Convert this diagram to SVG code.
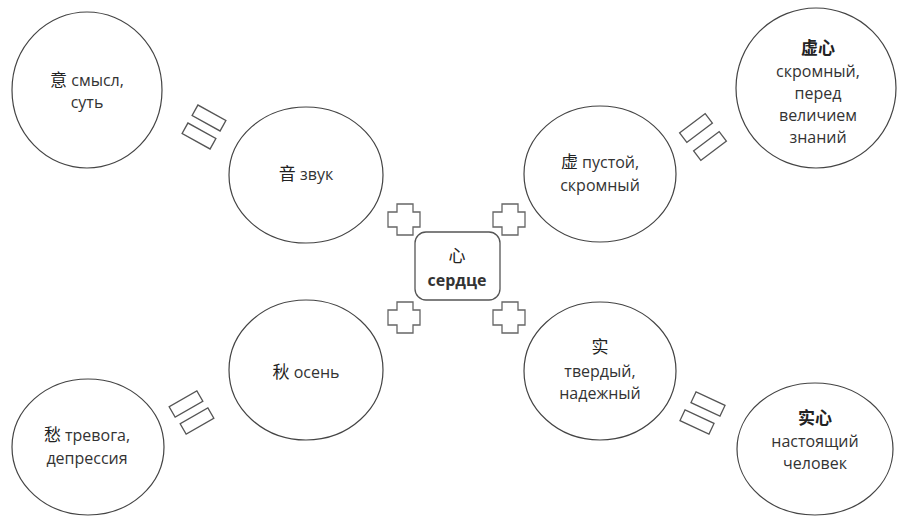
<svg xmlns="http://www.w3.org/2000/svg" width="897" height="516" viewBox="0 0 897 516">
<style>
.c{fill:#fff;stroke:#444;stroke-width:1.2}
.b{fill:#fff;stroke:#555;stroke-width:1.3}
.x{fill:#fff;stroke:#666;stroke-width:1.3}
.r{fill:#fff;stroke:#555;stroke-width:1.3}
text{font-family:"Open Sans","Noto Sans CJK SC",sans-serif;font-size:16px;fill:#333;text-anchor:middle}
.h{font-family:"Noto Sans CJK SC",sans-serif;font-size:17px;font-weight:400;fill:#222}
.bold{font-weight:bold}
</style>
<defs>
<path id="cross" d="M9,0 H25 V8 H32 V23 H25 V31 H9 V23 H0 V8 H9 Z"/>
<rect id="bar" x="-16" y="-6" width="32" height="12"/>
</defs>
<g id="connectors">
<use href="#cross" class="x" transform="translate(388,204)"/>
<use href="#cross" class="x" transform="translate(493,204)"/>
<use href="#cross" class="x" transform="translate(388,302)"/>
<use href="#cross" class="x" transform="translate(493,302)"/>
<use href="#bar" class="r" transform="translate(209,118) rotate(29)"/>
<use href="#bar" class="r" transform="translate(199,136) rotate(29)"/>
<use href="#bar" class="r" transform="translate(696,128) rotate(-37)"/>
<use href="#bar" class="r" transform="translate(710,146) rotate(-37)"/>
<use href="#bar" class="r" transform="translate(186,404) rotate(-30)"/>
<use href="#bar" class="r" transform="translate(197,421) rotate(-30)"/>
<use href="#bar" class="r" transform="translate(708,404) rotate(25)"/>
<use href="#bar" class="r" transform="translate(697,422) rotate(25)"/>
</g>
<g id="center">
<rect class="b" x="415" y="232" width="85" height="68" rx="11"/>
<text x="457" y="262"><tspan class="h">心</tspan></text>
<text x="457" y="286" class="bold">сердце</text>
</g>
<g id="yi">
<ellipse class="c" cx="87" cy="90" rx="75" ry="78"/>
<text x="87" y="86"><tspan class="h">意</tspan> смысл,</text>
<text x="87" y="108">суть</text>
</g>
<g id="yin">
<ellipse class="c" cx="306" cy="175" rx="77" ry="68"/>
<text x="306" y="180"><tspan class="h">音</tspan> звук</text>
</g>
<g id="xu">
<ellipse class="c" cx="600" cy="174" rx="76" ry="68"/>
<text x="600" y="168"><tspan class="h">虚</tspan> пустой,</text>
<text x="600" y="191">скромный</text>
</g>
<g id="xuxin">
<ellipse class="c" cx="816" cy="88" rx="80" ry="80"/>
<text x="818" y="54"><tspan class="h bold">虚心</tspan></text>
<text x="818" y="77">скромный,</text>
<text x="818" y="99">перед</text>
<text x="818" y="121">величием</text>
<text x="818" y="143">знаний</text>
</g>
<g id="qiu">
<ellipse class="c" cx="306" cy="370" rx="77" ry="70"/>
<text x="306" y="378"><tspan class="h">秋</tspan> осень</text>
</g>
<g id="chou">
<ellipse class="c" cx="88" cy="447" rx="76" ry="68"/>
<text x="87" y="441"><tspan class="h">愁</tspan> тревога,</text>
<text x="87" y="464">депрессия</text>
</g>
<g id="shi">
<ellipse class="c" cx="600" cy="371" rx="76" ry="69"/>
<text x="600" y="353"><tspan class="h">实</tspan></text>
<text x="600" y="377">твердый,</text>
<text x="600" y="399">надежный</text>
</g>
<g id="shixin">
<ellipse class="c" cx="815" cy="449" rx="78" ry="66"/>
<text x="815" y="424"><tspan class="h bold">实心</tspan></text>
<text x="815" y="447">настоящий</text>
<text x="815" y="469">человек</text>
</g>
</svg>
